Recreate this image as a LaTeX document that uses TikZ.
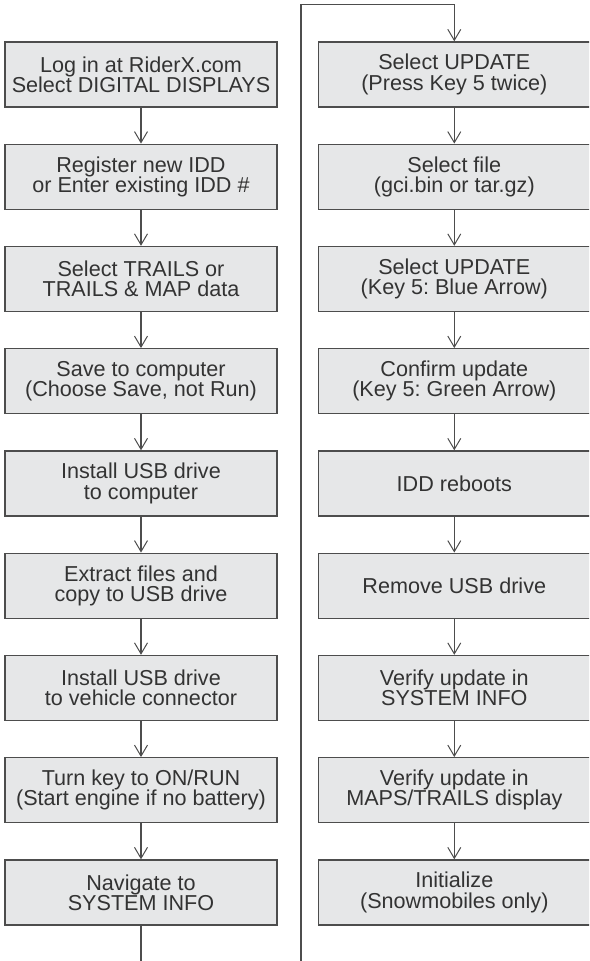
\documentclass[tikz,border=0pt]{standalone}
\usepackage{fontspec}
\setmainfont{Liberation Sans}
\usepackage{xcolor}
\definecolor{boxBack}  {HTML}{E6E7E8}
\definecolor{boxEdge}  {HTML}{4D4D4D}
\definecolor{boxText}  {HTML}{333333}
\usetikzlibrary{arrows.meta}
\frenchspacing

\begin{document}
\begin{tikzpicture}[
    x=1pt, y=1pt,
    every node/.style={font=\fontsize{21.6}{20.3}\selectfont, text=boxText},
    stepbox/.style={draw=boxEdge, fill=boxBack, line width=1.4pt, rectangle,
                    minimum width=272pt, minimum height=65pt, inner sep=1pt,
                    align=center},
    arr/.style={-{Straight Barb[length=11pt, width=13pt, line width=1pt]},
                draw=boxEdge, line width=1.2pt}
]
\useasboundingbox (0,0) rectangle (589,-961);
\clip (0,0) rectangle (589,-961);
% Left column
\foreach \t [count=\i] in {
    {Log in at RiderX.com\\Select DIGITAL DISPLAYS},
    {Register new IDD\\or Enter existing IDD \#},
    {Select TRAILS or\\TRAILS \& MAP data},
    {Save to computer\\(Choose Save, not Run)},
    {Install USB drive\\to computer},
    {Extract files and\\copy to USB drive},
    {Install USB drive\\to vehicle connector},
    {Turn key to ON/RUN\\(Start engine if no battery)},
    {Navigate to\\SYSTEM INFO}} {
    \node[stepbox] (l\i) at (141, {-74.5-102.25*(\i-1)}) {\t};
}
% Right column
\foreach \t [count=\i] in {
    {Select UPDATE\\(Press Key 5 twice)},
    {Select file\\(gci.bin or tar.gz)},
    {Select UPDATE\\(Key 5: Blue Arrow)},
    {Confirm update\\(Key 5: Green Arrow)},
    {IDD reboots},
    {Remove USB drive},
    {Verify update in\\SYSTEM INFO},
    {Verify update in\\MAPS/TRAILS display},
    {Initialize\\(Snowmobiles only)}} {
    \node[stepbox] (r\i) at (454.3, {-74.5-102.25*(\i-1)}) {\t};
}
% Arrows down each column
\foreach \i/\j in {1/2, 2/3, 3/4, 4/5, 5/6, 6/7, 7/8, 8/9} {
    \draw[arr] (l\i) -- (l\j);
    \draw[arr] (r\i) -- (r\j);
}
% Loop from bottom of left column to top of right column
\coordinate (loopbot) at (301,-1000);
\coordinate (looptop) at (454.3,-4.3);
\draw[arr] (l9.south) |- (loopbot) |- (looptop) -- (r1.north);
\end{tikzpicture}
\end{document}
